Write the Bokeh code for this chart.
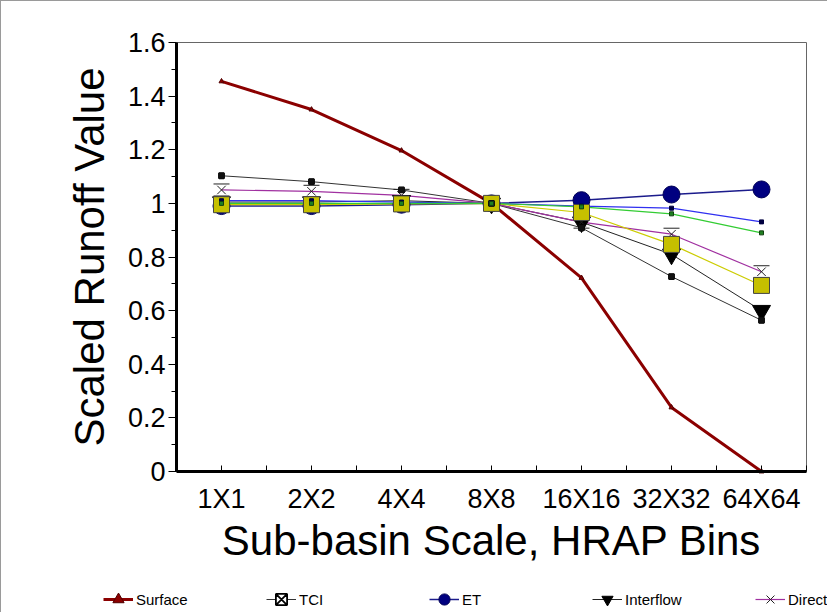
from bokeh.plotting import figure
from bokeh.models import Range1d, FixedTicker, Legend, LegendItem, BoxAnnotation
from bokeh.embed import file_html
from bokeh.resources import INLINE

# ---- data ----
scales = ["1X1", "2X2", "4X4", "8X8", "16X16", "32X32", "64X64"]
surface = [1.455, 1.35, 1.197, 1.0, 0.722, 0.239, 0.0]
tci = [1.103, 1.081, 1.05, 1.0, 0.909, 0.727, 0.564]
et = [0.99, 0.99, 0.995, 1.0, 1.012, 1.033, 1.052]
interflow = [1.005, 1.005, 1.01, 1.0, 0.93, 0.81, 0.60]
direct = [1.05, 1.045, 1.03, 1.0, 0.93, 0.885, 0.745]
series_yellow = [0.995, 0.995, 0.998, 1.0, 0.966, 0.847, 0.694]
series_blue = [1.01, 1.01, 1.005, 1.0, 0.99, 0.982, 0.931]
series_green = [1.0, 1.0, 1.0, 1.0, 0.987, 0.961, 0.890]
y_ticks = [0, 0.2, 0.4, 0.6, 0.8, 1, 1.2, 1.4, 1.6]
y_tick_labels = ["0", "0.2", "0.4", "0.6", "0.8", "1", "1.2", "1.4", "1.6"]

x = list(range(len(scales)))
FONT = "Liberation Sans"

# ---- geometry (pixels) ----
FW, FH = 826, 611          # whole drawing area is the frame
PX_X, PX_Y = 90.0, 268.125  # pixels per category / per unit
X0_PIX, Y0_PIX = 220, 141   # where (first category, 0) sits: from left / from bottom
X_LO = -0.5
X_HI = len(scales) - 0.5
Y_LO, Y_HI = y_ticks[0], y_ticks[-1]
x_start = -X0_PIX / PX_X
x_end = (FW - X0_PIX) / PX_X
y_start = -Y0_PIX / PX_Y
y_end = (FH - Y0_PIX) / PX_Y
dy = 6 / PX_Y  # hourglass bar offset

p = figure(frame_width=FW, frame_height=FH,
           min_border_left=0, min_border_right=0,
           min_border_top=0, min_border_bottom=0,
           x_range=Range1d(x_start, x_end), y_range=Range1d(y_start, y_end),
           output_backend="svg", toolbar_location=None)
p.extra_y_ranges = {"up": Range1d(y_start - dy, y_end - dy),
                    "down": Range1d(y_start + dy, y_end + dy)}
p.xgrid.visible = False
p.ygrid.visible = False
p.outline_line_color = None
p.background_fill_color = "white"
p.border_fill_color = "white"
p.styles = {"border-left": "1px solid #9a9a9a", "border-top": "1px solid #9a9a9a"}

# plot-area box (top / right edges)
p.add_layout(BoxAnnotation(left=X_LO, right=X_HI, bottom=Y_LO, top=Y_HI,
                           fill_alpha=0, line_color="#666666", line_width=1,
                           line_alpha=1, level="underlay"))

# y axis
ya = p.yaxis[0]
ya.fixed_location = X_LO
ya.bounds = (Y_LO, Y_HI)
ya.ticker = FixedTicker(ticks=y_ticks,
                        minor_ticks=[(a + b) / 2 for a, b in zip(y_ticks[:-1], y_ticks[1:])])
ya.major_label_overrides = dict(zip(y_ticks, y_tick_labels))
ya.axis_line_width = 3
ya.major_tick_out = 8
ya.major_tick_in = 0
ya.minor_tick_out = 5
ya.minor_tick_in = 0
ya.major_label_standoff = 3
ya.major_label_text_font = FONT
ya.major_label_text_font_size = "27px"
ya.major_label_text_color = "black"
ya.axis_label = "Scaled Runoff Value"
ya.axis_label_text_font = FONT
ya.axis_label_text_font_size = "42px"
ya.axis_label_text_font_style = "normal"
ya.axis_label_text_color = "black"
ya.axis_label_standoff = 12

# x axis
xa = p.xaxis[0]
xa.fixed_location = Y_LO
xa.bounds = (X_LO, X_HI)
xa.ticker = FixedTicker(ticks=x, minor_ticks=[i - 0.5 for i in x] + [x[-1] + 0.5])
xa.major_label_overrides = dict(zip(x, scales))
xa.axis_line_width = 3
xa.major_tick_in = 6
xa.major_tick_out = 0
xa.minor_tick_in = 6
xa.minor_tick_out = 0
xa.major_label_standoff = 12
xa.major_label_text_font = FONT
xa.major_label_text_font_size = "27px"
xa.major_label_text_color = "black"
xa.axis_label = "Sub-basin Scale, HRAP Bins"
xa.axis_label_text_font = FONT
xa.axis_label_text_font_size = "42px"
xa.axis_label_text_font_style = "normal"
xa.axis_label_text_color = "black"
xa.axis_label_standoff = 0

# ---- lines ----
l_surf = p.line(x, surface, line_color="#8b0000", line_width=3)
l_tci = p.line(x, tci, line_color="#333333", line_width=1)
l_et = p.line(x, et, line_color="#1c1c8c", line_width=1.5)
l_int = p.line(x, interflow, line_color="#222222", line_width=1)
l_dir = p.line(x, direct, line_color="#a030a0", line_width=1.2)
l_blue = p.line(x, series_blue, line_color="#3030f0", line_width=1.2)
l_yel = p.line(x, series_yellow, line_color="#cccc00", line_width=1.2)
l_green = p.line(x, series_green, line_color="#33cc33", line_width=1.2)

# ---- markers ----
m_surf = p.scatter(x, surface, marker="triangle", size=5,
                   fill_color="#8b0000", line_color="#500000")
m_et = p.scatter(x, et, marker="circle", size=17,
                 fill_color="#000080", line_color="#000055")
m_int = p.scatter(x, interflow, marker="inverted_triangle", size=18,
                  fill_color="black", line_color="black")
m_dir = p.scatter(x, direct, marker="x", size=12, line_color="#222222",
                  line_width=1)
p.scatter(x, direct, marker="dash", size=16, line_color="#222222",
          line_width=1, y_range_name="up")
p.scatter(x, direct, marker="dash", size=16, line_color="#222222",
          line_width=1, y_range_name="down")
p.scatter(x, series_yellow, marker="square", size=16,
          fill_color="#c6c000", line_color="#444444")
m_tci = p.scatter(x, tci, marker="square_x", size=5,
                  fill_color="white", line_color="black", line_width=1.8)
p.scatter(x, tci, marker="square", size=5,
          fill_color="#111111", line_color="#111111")
p.scatter(x, series_blue, marker="square", size=4,
          fill_color="#000040", line_color="#000040")
p.scatter(x, series_green, marker="square", size=4,
          fill_color="#208020", line_color="#104010")

legend = Legend(items=[
    LegendItem(label="Surface", renderers=[l_surf, m_surf]),
    LegendItem(label="TCI", renderers=[l_tci, m_tci]),
    LegendItem(label="ET", renderers=[l_et, m_et]),
    LegendItem(label="Interflow", renderers=[l_int, m_int]),
    LegendItem(label="Direct", renderers=[l_dir, m_dir]),
], orientation="horizontal", location=(102, -1),
    glyph_width=30, glyph_height=28, label_standoff=3, label_width=100,
    spacing=30, padding=0, margin=0,
    border_line_alpha=0, background_fill_alpha=0,
    label_text_font=FONT, label_text_font_size="15px",
    label_text_color="black")
p.add_layout(legend)

open("out.html", "w").write(file_html(p, INLINE))
